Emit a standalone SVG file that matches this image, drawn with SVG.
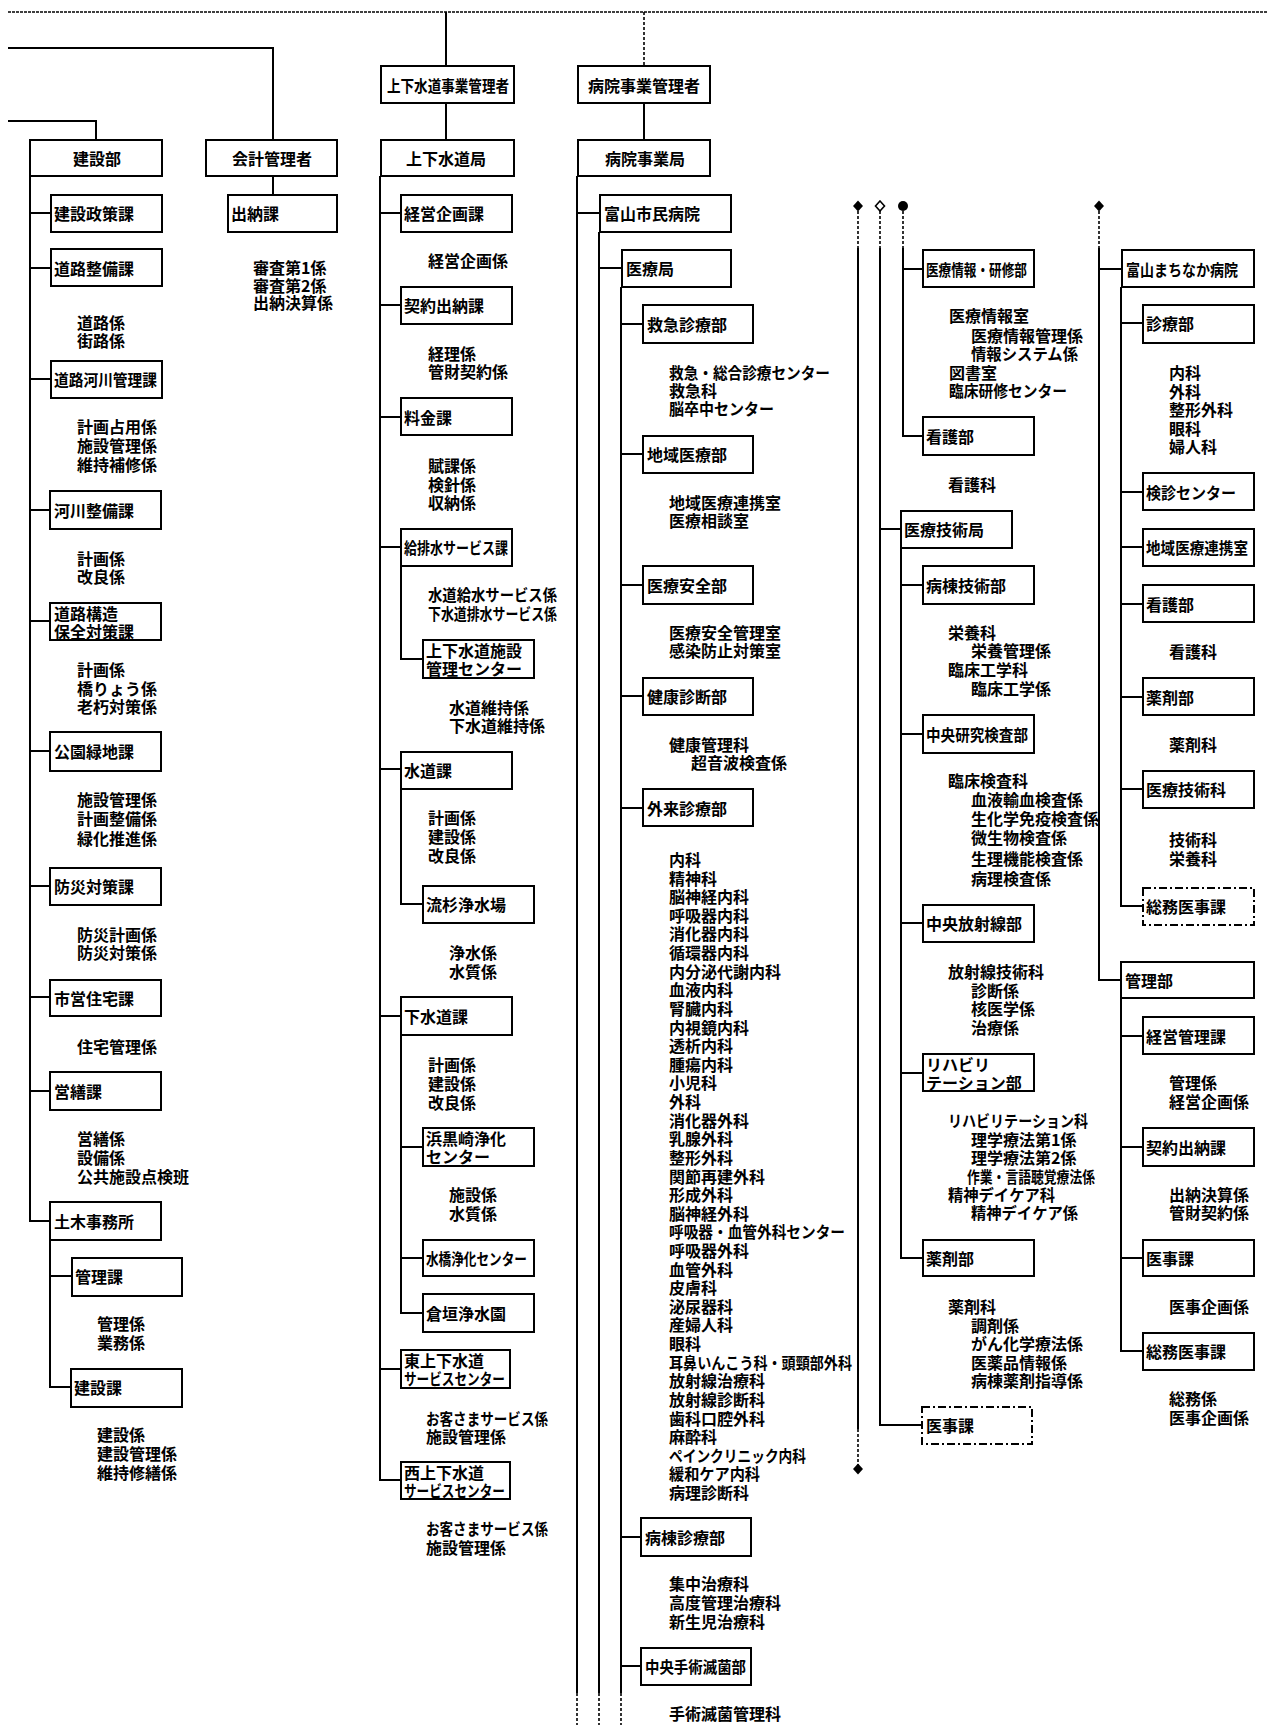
<svg xmlns="http://www.w3.org/2000/svg" width="1268" height="1725" viewBox="0 0 1268 1725">
<style>
.bg{fill:#fff}
.b{fill:#fff;stroke:#000;stroke-width:2}
.bd{fill:#fff;stroke:#000;stroke-width:2;stroke-dasharray:8 3 2 3}
.c{fill:none;stroke:#000;stroke-width:2}
.cd{fill:none;stroke:#000;stroke-width:1.6;stroke-dasharray:3 2}
.top{fill:none;stroke:#000;stroke-width:1.5;stroke-dasharray:3 1}
text{font-family:"Noto Sans CJK JP","Noto Sans CJK SC",sans-serif;font-weight:bold;font-size:16px;dominant-baseline:central;fill:#000}
.m{text-anchor:middle}
</style>
<defs>
<marker id="dia" viewBox="-6 -6 12 12" refX="0" refY="0" markerWidth="12" markerHeight="12" markerUnits="userSpaceOnUse" orient="0"><path d="M0,-5.5 L5,0 L0,5.5 L-5,0 Z" fill="#000"/></marker>
<marker id="diao" viewBox="-6 -6 12 12" refX="0" refY="0" markerWidth="12" markerHeight="12" markerUnits="userSpaceOnUse" orient="0"><path d="M0,-5 L4.5,0 L0,5 L-4.5,0 Z" fill="#fff" stroke="#000" stroke-width="1.6"/></marker>
<marker id="dot" viewBox="-6 -6 12 12" refX="0" refY="0" markerWidth="12" markerHeight="12" markerUnits="userSpaceOnUse" orient="0"><circle r="5" fill="#000"/></marker>
</defs>
<rect class="bg" x="0" y="0" width="1268" height="1725"/>

<g id="connectors">
<path class="top" d="M8,12 H1268"/>
<path class="c" d="M8,48 H273 V140 M8,121 H96 V140 M273,176 V195"/>
<path class="c" d="M30,176 V1221 H51 M30,213 H51 M30,268 H51 M30,379 H51 M30,510 H50 M30,621 H50 M30,751 H50 M30,886 H50 M30,997 H50 M30,1091 H50"/>
<path class="c" d="M50,1240 V1387 H71 M50,1276 H72"/>
<path class="c" d="M446,12 V66 M446,103 V140"/>
<path class="c" d="M380,176 V1480 H401 M380,213 H401 M380,305 H401 M380,417 H401 M380,547 H401 M380,769 H401 M380,1016 H401 M380,1369 H401"/>
<path class="c" d="M401,566 V659 H423 M401,789 V904 H423 M401,1035 V1313 H423 M401,1147 H423 M401,1258 H423"/>
<path class="cd" d="M644,12 V66"/>
<path class="c" d="M644,103 V140"/>
<path class="c" d="M577,176 V1693 M577,213 H600 M599,232 V1693 M599,268 H622 M621,287 V1693"/>
<path class="cd" d="M577,1693 V1725 M599,1693 V1725 M621,1693 V1725"/>
<path class="c" d="M621,324 H643 M621,454 H643 M621,585 H643 M621,696 H643 M621,808 H643 M621,1537 H641 M621,1666 H641"/>
<path class="cd" d="M858,206 V248" marker-start="url(#dia)"/>
<path class="cd" d="M880,206 V248" marker-start="url(#diao)"/>
<path class="cd" d="M903,206 V248" marker-start="url(#dot)"/>
<path class="cd" d="M1099,206 V248" marker-start="url(#dia)"/>
<path class="c" d="M858,248 V1429"/>
<path class="cd" d="M858,1429 V1469" marker-end="url(#dia)"/>
<path class="c" d="M880,248 V1425 H922 M880,529 H901"/>
<path class="c" d="M903,248 V436 H923 M903,269 H923"/>
<path class="c" d="M901,548 V1258 H923 M901,585 H923 M901,734 H923 M901,923 H923 M901,1073 H923"/>
<path class="c" d="M1099,248 V980 H1121 M1099,269 H1122"/>
<path class="c" d="M1121,287 V906 H1143 M1121,323 H1143 M1121,492 H1143 M1121,547 H1143 M1121,604 H1143 M1121,697 H1143 M1121,789 H1143"/>
<path class="c" d="M1121,998 V1351 H1143 M1121,1036 H1143 M1121,1147 H1143 M1121,1258 H1143"/>
</g>

<!-- 建設部 -->
<g id="kensetsubu"><rect class="b" x="30" y="140" width="132" height="36"/><text class="m" x="97" y="158">建設部</text></g>
<g id="kensetsu-seisaku"><rect class="b" x="51" y="195" width="111" height="37"/><text x="54" y="213">建設政策課</text></g>
<g id="douro-seibi"><rect class="b" x="51" y="249" width="111" height="37"/><text x="54" y="268">道路整備課</text>
<text><tspan x="77" y="322">道路係</tspan><tspan x="77" y="340">街路係</tspan></text></g>
<g id="douro-kasen"><rect class="b" x="51" y="361" width="111" height="37"/><text x="54" y="379" font-size="14.5" textLength="103" lengthAdjust="spacingAndGlyphs">道路河川管理課</text>
<text><tspan x="77" y="426">計画占用係</tspan><tspan x="77" y="445">施設管理係</tspan><tspan x="77" y="464">維持補修係</tspan></text></g>
<g id="kasen-seibi"><rect class="b" x="50" y="491" width="111" height="38"/><text x="54" y="510">河川整備課</text>
<text><tspan x="77" y="558">計画係</tspan><tspan x="77" y="576">改良係</tspan></text></g>
<g id="douro-kouzou"><rect class="b" x="50" y="603" width="111" height="37"/><text x="54" y="613">道路構造</text><text x="54" y="631">保全対策課</text>
<text><tspan x="77" y="669">計画係</tspan><tspan x="77" y="688">橋りょう係</tspan><tspan x="77" y="706">老朽対策係</tspan></text></g>
<g id="kouen"><rect class="b" x="50" y="732" width="111" height="39"/><text x="54" y="751">公園緑地課</text>
<text><tspan x="77" y="799">施設管理係</tspan><tspan x="77" y="818">計画整備係</tspan><tspan x="77" y="838">緑化推進係</tspan></text></g>
<g id="bousai"><rect class="b" x="50" y="868" width="111" height="37"/><text x="54" y="886">防災対策課</text>
<text><tspan x="77" y="934">防災計画係</tspan><tspan x="77" y="952">防災対策係</tspan></text></g>
<g id="shiei-juutaku"><rect class="b" x="50" y="980" width="111" height="36"/><text x="54" y="998">市営住宅課</text>
<text x="77" y="1046">住宅管理係</text></g>
<g id="eizen"><rect class="b" x="50" y="1072" width="111" height="38"/><text x="54" y="1091">営繕課</text>
<text><tspan x="77" y="1138">営繕係</tspan><tspan x="77" y="1157">設備係</tspan><tspan x="77" y="1176">公共施設点検班</tspan></text></g>
<g id="doboku"><rect class="b" x="50" y="1202" width="111" height="38"/><text x="54" y="1221">土木事務所</text></g>
<g id="doboku-kanri"><rect class="b" x="72" y="1258" width="110" height="38"/><text x="75" y="1276">管理課</text>
<text><tspan x="97" y="1323">管理係</tspan><tspan x="97" y="1342">業務係</tspan></text></g>
<g id="doboku-kensetsu"><rect class="b" x="71" y="1369" width="111" height="38"/><text x="74" y="1387">建設課</text>
<text><tspan x="97" y="1434">建設係</tspan><tspan x="97" y="1453">建設管理係</tspan><tspan x="97" y="1472">維持修繕係</tspan></text></g>

<!-- 会計管理者 -->
<g id="kaikei"><rect class="b" x="206" y="140" width="131" height="36"/><text class="m" x="272" y="158">会計管理者</text></g>
<g id="suitou"><rect class="b" x="228" y="195" width="109" height="37"/><text x="231" y="213">出納課</text>
<text><tspan x="253" y="267">審査第1係</tspan><tspan x="253" y="285">審査第2係</tspan><tspan x="253" y="302">出納決算係</tspan></text></g>

<!-- 上下水道 -->
<g id="jougesuido-kanrisha"><rect class="b" x="381" y="66" width="133" height="37"/><text x="387" y="85" font-size="13.5" textLength="122" lengthAdjust="spacingAndGlyphs">上下水道事業管理者</text></g>
<g id="jougesuido-kyoku"><rect class="b" x="381" y="140" width="133" height="36"/><text class="m" x="446" y="158">上下水道局</text></g>
<g id="keiei-kikaku"><rect class="b" x="401" y="195" width="111" height="37"/><text x="404" y="213">経営企画課</text>
<text x="428" y="260">経営企画係</text></g>
<g id="keiyaku-suitou"><rect class="b" x="401" y="287" width="111" height="37"/><text x="404" y="305">契約出納課</text>
<text><tspan x="428" y="353">経理係</tspan><tspan x="428" y="371">管財契約係</tspan></text></g>
<g id="ryoukin"><rect class="b" x="401" y="398" width="111" height="37"/><text x="404" y="417">料金課</text>
<text><tspan x="428" y="465">賦課係</tspan><tspan x="428" y="484">検針係</tspan><tspan x="428" y="502">収納係</tspan></text></g>
<g id="kyuuhaisui"><rect class="b" x="401" y="529" width="111" height="37"/><text x="404" y="547" font-size="13" textLength="104" lengthAdjust="spacingAndGlyphs">給排水サービス課</text>
<text x="428" y="594" textLength="129" lengthAdjust="spacingAndGlyphs">水道給水サービス係</text><text x="428" y="613" font-size="13" textLength="129" lengthAdjust="spacingAndGlyphs">下水道排水サービス係</text></g>
<g id="shisetsu-center"><rect class="b" x="423" y="640" width="111" height="38"/><text x="426" y="650">上下水道施設</text><text x="426" y="668">管理センター</text>
<text><tspan x="449" y="707">水道維持係</tspan><tspan x="449" y="725">下水道維持係</tspan></text></g>
<g id="suidou"><rect class="b" x="401" y="752" width="111" height="37"/><text x="404" y="770">水道課</text>
<text><tspan x="428" y="817">計画係</tspan><tspan x="428" y="836">建設係</tspan><tspan x="428" y="855">改良係</tspan></text></g>
<g id="nagarekiji"><rect class="b" x="423" y="886" width="111" height="37"/><text x="426" y="904">流杉浄水場</text>
<text><tspan x="449" y="952">浄水係</tspan><tspan x="449" y="971">水質係</tspan></text></g>
<g id="gesuidou"><rect class="b" x="401" y="997" width="111" height="38"/><text x="404" y="1016">下水道課</text>
<text><tspan x="428" y="1064">計画係</tspan><tspan x="428" y="1083">建設係</tspan><tspan x="428" y="1102">改良係</tspan></text></g>
<g id="hamakurosaki"><rect class="b" x="423" y="1128" width="111" height="38"/><text x="426" y="1138">浜黒崎浄化</text><text x="426" y="1156">センター</text>
<text><tspan x="449" y="1194">施設係</tspan><tspan x="449" y="1213">水質係</tspan></text></g>
<g id="mizuhashi"><rect class="b" x="423" y="1240" width="111" height="36"/><text x="426" y="1258" font-size="13" textLength="101" lengthAdjust="spacingAndGlyphs">水橋浄化センター</text></g>
<g id="kuragaki"><rect class="b" x="423" y="1294" width="111" height="38"/><text x="426" y="1313">倉垣浄水園</text></g>
<g id="higashi-center"><rect class="b" x="401" y="1350" width="109" height="38"/><text x="404" y="1360" font-size="13.5">東上下水道</text><text x="404" y="1378" font-size="13" textLength="101" lengthAdjust="spacingAndGlyphs">サービスセンター</text>
<text x="426" y="1418" textLength="122" lengthAdjust="spacingAndGlyphs">お客さまサービス係</text><text x="426" y="1436">施設管理係</text></g>
<g id="nishi-center"><rect class="b" x="401" y="1462" width="109" height="37"/><text x="404" y="1472" font-size="13.5">西上下水道</text><text x="404" y="1490" font-size="13" textLength="101" lengthAdjust="spacingAndGlyphs">サービスセンター</text>
<text x="426" y="1528" textLength="122" lengthAdjust="spacingAndGlyphs">お客さまサービス係</text><text x="426" y="1547">施設管理係</text></g>

<!-- 病院 -->
<g id="byouin-kanrisha"><rect class="b" x="578" y="66" width="132" height="37"/><text class="m" x="644" y="85">病院事業管理者</text></g>
<g id="byouin-kyoku"><rect class="b" x="578" y="140" width="132" height="36"/><text class="m" x="645" y="158">病院事業局</text></g>
<g id="shimin-byouin"><rect class="b" x="600" y="195" width="131" height="37"/><text x="604" y="213">富山市民病院</text></g>
<g id="iryou-kyoku"><rect class="b" x="622" y="250" width="109" height="37"/><text x="626" y="268">医療局</text></g>
<g id="kyuukyuu"><rect class="b" x="643" y="305" width="110" height="38"/><text x="647" y="324">救急診療部</text>
<text x="669" y="372" textLength="161" lengthAdjust="spacingAndGlyphs">救急・総合診療センター</text><text x="669" y="390">救急科</text><text x="669" y="408" textLength="105" lengthAdjust="spacingAndGlyphs">脳卒中センター</text></g>
<g id="chiiki-iryou"><rect class="b" x="643" y="436" width="110" height="37"/><text x="647" y="454">地域医療部</text>
<text><tspan x="669" y="502">地域医療連携室</tspan><tspan x="669" y="520">医療相談室</tspan></text></g>
<g id="iryou-anzen"><rect class="b" x="643" y="566" width="110" height="38"/><text x="647" y="585">医療安全部</text>
<text><tspan x="669" y="632">医療安全管理室</tspan><tspan x="669" y="650">感染防止対策室</tspan></text></g>
<g id="kenkou-shindan"><rect class="b" x="643" y="678" width="110" height="37"/><text x="647" y="696">健康診断部</text>
<text><tspan x="669" y="744">健康管理科</tspan><tspan x="691" y="762">超音波検査係</tspan></text></g>
<g id="gairai"><rect class="b" x="643" y="789" width="110" height="37"/><text x="647" y="808">外来診療部</text>
<text><tspan x="669" y="859">内科</tspan><tspan x="669" dy="18.62">精神科</tspan><tspan x="669" dy="18.62">脳神経内科</tspan><tspan x="669" dy="18.62">呼吸器内科</tspan><tspan x="669" dy="18.62">消化器内科</tspan><tspan x="669" dy="18.62">循環器内科</tspan><tspan x="669" dy="18.62">内分泌代謝内科</tspan><tspan x="669" dy="18.62">血液内科</tspan><tspan x="669" dy="18.62">腎臓内科</tspan><tspan x="669" dy="18.62">内視鏡内科</tspan><tspan x="669" dy="18.62">透析内科</tspan><tspan x="669" dy="18.62">腫瘍内科</tspan><tspan x="669" dy="18.62">小児科</tspan><tspan x="669" dy="18.62">外科</tspan><tspan x="669" dy="18.62">消化器外科</tspan><tspan x="669" dy="18.62">乳腺外科</tspan><tspan x="669" dy="18.62">整形外科</tspan><tspan x="669" dy="18.62">関節再建外科</tspan><tspan x="669" dy="18.62">形成外科</tspan><tspan x="669" dy="18.62">脳神経外科</tspan></text>
<text x="669" y="1231.4" textLength="176" lengthAdjust="spacingAndGlyphs">呼吸器・血管外科センター</text>
<text><tspan x="669" y="1250">呼吸器外科</tspan><tspan x="669" dy="18.62">血管外科</tspan><tspan x="669" dy="18.62">皮膚科</tspan><tspan x="669" dy="18.62">泌尿器科</tspan><tspan x="669" dy="18.62">産婦人科</tspan><tspan x="669" dy="18.62">眼科</tspan></text>
<text x="669" y="1361.7" textLength="183" lengthAdjust="spacingAndGlyphs">耳鼻いんこう科・頭頸部外科</text>
<text><tspan x="669" y="1380.4">放射線治療科</tspan><tspan x="669" dy="18.62">放射線診断科</tspan><tspan x="669" dy="18.62">歯科口腔外科</tspan><tspan x="669" dy="18.62">麻酔科</tspan></text>
<text x="669" y="1454.8" textLength="137" lengthAdjust="spacingAndGlyphs">ペインクリニック内科</text>
<text x="669" y="1473.4" textLength="91" lengthAdjust="spacingAndGlyphs">緩和ケア内科</text>
<text x="669" y="1492.1">病理診断科</text></g>
<g id="byoutou-shinryou"><rect class="b" x="641" y="1518" width="110" height="38"/><text x="645" y="1537">病棟診療部</text>
<text><tspan x="669" y="1583">集中治療科</tspan><tspan x="669" y="1602">高度管理治療科</tspan><tspan x="669" y="1621">新生児治療科</tspan></text></g>
<g id="shujutsu"><rect class="b" x="641" y="1648" width="110" height="37"/><text x="645" y="1666" font-size="14.5" textLength="101" lengthAdjust="spacingAndGlyphs">中央手術滅菌部</text>
<text x="669" y="1713">手術滅菌管理科</text></g>

<g id="iryou-jouhou"><rect class="b" x="923" y="250" width="111" height="37"/><text x="926" y="269" font-size="13" textLength="101" lengthAdjust="spacingAndGlyphs">医療情報・研修部</text>
<text><tspan x="949" y="315">医療情報室</tspan><tspan x="971" y="335">医療情報管理係</tspan></text>
<text x="971" y="353" textLength="107" lengthAdjust="spacingAndGlyphs">情報システム係</text>
<text x="949" y="372">図書室</text>
<text x="949" y="390" textLength="118" lengthAdjust="spacingAndGlyphs">臨床研修センター</text></g>
<g id="kango-1"><rect class="b" x="923" y="417" width="111" height="38"/><text x="926" y="436">看護部</text>
<text x="948" y="484">看護科</text></g>
<g id="iryou-gijutsu"><rect class="b" x="901" y="511" width="111" height="37"/><text x="904" y="529">医療技術局</text></g>
<g id="byoutou-gijutsu"><rect class="b" x="923" y="566" width="111" height="38"/><text x="926" y="585">病棟技術部</text>
<text><tspan x="948" y="632">栄養科</tspan><tspan x="971" y="650">栄養管理係</tspan><tspan x="948" y="669">臨床工学科</tspan><tspan x="971" y="688">臨床工学係</tspan></text></g>
<g id="chuuou-kensa"><rect class="b" x="923" y="715" width="111" height="38"/><text x="926" y="734" font-size="14.5" textLength="102" lengthAdjust="spacingAndGlyphs">中央研究検査部</text>
<text><tspan x="948" y="780">臨床検査科</tspan><tspan x="971" y="799">血液輸血検査係</tspan><tspan x="971" y="818">生化学免疫検査係</tspan><tspan x="971" y="837">微生物検査係</tspan><tspan x="971" y="858">生理機能検査係</tspan><tspan x="971" y="878">病理検査係</tspan></text></g>
<g id="houshasen"><rect class="b" x="923" y="905" width="111" height="37"/><text x="926" y="923">中央放射線部</text>
<text><tspan x="948" y="971">放射線技術科</tspan><tspan x="971" y="990">診断係</tspan><tspan x="971" y="1008">核医学係</tspan><tspan x="971" y="1027">治療係</tspan></text></g>
<g id="rehab"><rect class="b" x="923" y="1054" width="111" height="37"/><text x="926" y="1064" font-size="14.5">リハビリ</text><text x="926" y="1082" font-size="14">テーション部</text>
<text x="948" y="1120" textLength="140" lengthAdjust="spacingAndGlyphs">リハビリテーション科</text>
<text><tspan x="971" y="1139">理学療法第1係</tspan><tspan x="971" y="1157">理学療法第2係</tspan></text>
<text x="967" y="1176" font-size="12.8" textLength="128" lengthAdjust="spacingAndGlyphs">作業・言語聴覚療法係</text>
<text x="948" y="1194" textLength="107" lengthAdjust="spacingAndGlyphs">精神デイケア科</text>
<text x="971" y="1212" textLength="107" lengthAdjust="spacingAndGlyphs">精神デイケア係</text></g>
<g id="yakuzai-1"><rect class="b" x="923" y="1240" width="111" height="36"/><text x="926" y="1258">薬剤部</text>
<text><tspan x="948" y="1306">薬剤科</tspan><tspan x="971" y="1325">調剤係</tspan><tspan x="971" y="1343">がん化学療法係</tspan><tspan x="971" y="1362">医薬品情報係</tspan><tspan x="971" y="1380">病棟薬剤指導係</tspan></text></g>
<g id="iji-1"><rect class="bd" x="922" y="1407" width="110" height="37"/><text x="926" y="1425">医事課</text></g>

<g id="machinaka"><rect class="b" x="1122" y="250" width="132" height="37"/><text x="1126" y="269" textLength="112" lengthAdjust="spacingAndGlyphs">富山まちなか病院</text></g>
<g id="shinryou"><rect class="b" x="1143" y="305" width="111" height="38"/><text x="1146" y="323">診療部</text>
<text><tspan x="1169" y="372">内科</tspan><tspan x="1169" y="390.5">外科</tspan><tspan x="1169" y="409">整形外科</tspan><tspan x="1169" y="427.5">眼科</tspan><tspan x="1169" y="446">婦人科</tspan></text></g>
<g id="kenshin"><rect class="b" x="1143" y="473" width="111" height="37"/><text x="1146" y="492" textLength="90" lengthAdjust="spacingAndGlyphs">検診センター</text></g>
<g id="chiiki-renkei"><rect class="b" x="1143" y="529" width="111" height="37"/><text x="1146" y="547" font-size="14.5" textLength="102" lengthAdjust="spacingAndGlyphs">地域医療連携室</text></g>
<g id="kango-2"><rect class="b" x="1143" y="585" width="111" height="37"/><text x="1146" y="604">看護部</text>
<text x="1169" y="651">看護科</text></g>
<g id="yakuzai-2"><rect class="b" x="1143" y="678" width="111" height="37"/><text x="1146" y="697">薬剤部</text>
<text x="1169" y="744">薬剤科</text></g>
<g id="iryou-gijutsuka"><rect class="b" x="1143" y="771" width="111" height="37"/><text x="1146" y="789">医療技術科</text>
<text><tspan x="1169" y="839">技術科</tspan><tspan x="1169" y="858">栄養科</tspan></text></g>
<g id="soumu-iji-1"><rect class="bd" x="1143" y="888" width="111" height="37"/><text x="1146" y="906">総務医事課</text></g>
<g id="kanribu"><rect class="b" x="1121" y="962" width="133" height="36"/><text x="1125" y="980">管理部</text></g>
<g id="keiei-kanri"><rect class="b" x="1143" y="1017" width="111" height="37"/><text x="1146" y="1036">経営管理課</text>
<text><tspan x="1169" y="1082">管理係</tspan><tspan x="1169" y="1101">経営企画係</tspan></text></g>
<g id="keiyaku-suitou-2"><rect class="b" x="1143" y="1128" width="111" height="38"/><text x="1146" y="1147">契約出納課</text>
<text><tspan x="1169" y="1194">出納決算係</tspan><tspan x="1169" y="1212">管財契約係</tspan></text></g>
<g id="iji-2"><rect class="b" x="1143" y="1240" width="111" height="36"/><text x="1146" y="1258">医事課</text>
<text x="1169" y="1306">医事企画係</text></g>
<g id="soumu-iji-2"><rect class="b" x="1143" y="1333" width="111" height="37"/><text x="1146" y="1351">総務医事課</text>
<text><tspan x="1169" y="1398">総務係</tspan><tspan x="1169" y="1417">医事企画係</tspan></text></g>
</svg>
